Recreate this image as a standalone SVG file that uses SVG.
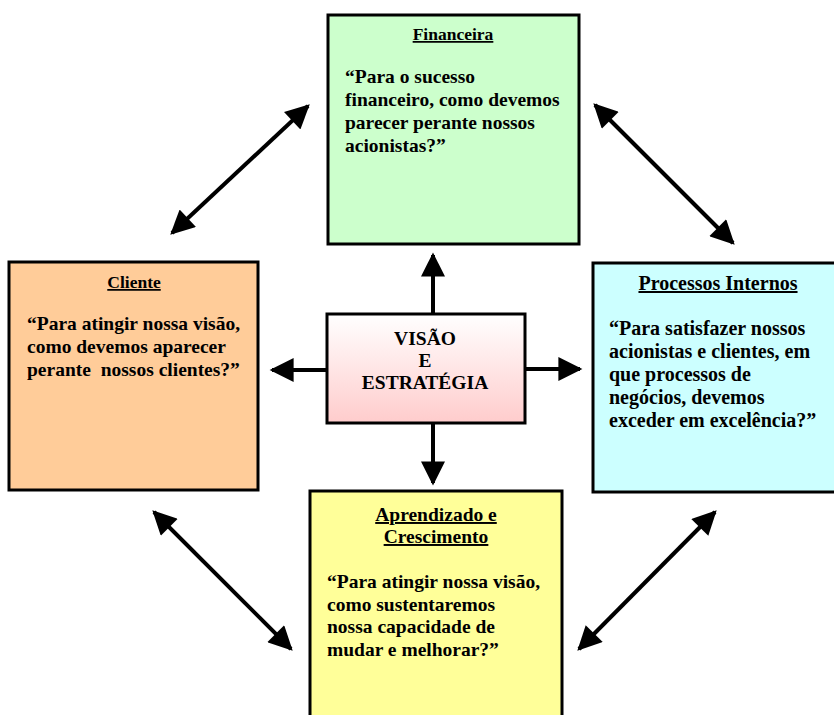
<svg xmlns="http://www.w3.org/2000/svg" width="834" height="715" viewBox="0 0 834 715">
  <defs>
    <linearGradient id="centerFill" x1="0" y1="0" x2="0" y2="1">
      <stop offset="0" stop-color="#FFFFFF"/>
      <stop offset="1" stop-color="#FFCCCC"/>
    </linearGradient>
    <marker id="head" viewBox="0 0 10 10" refX="9" refY="5" markerWidth="6.5" markerHeight="6" markerUnits="strokeWidth" orient="auto-start-reverse">
      <path d="M0,0 L10,5 L0,10 Z" fill="#000"/>
    </marker>
    <style>
      .box { stroke: #000; stroke-width: 3; }
      .title { font-family: "Liberation Serif", "Times New Roman", serif; font-weight: bold; font-size: 17.5px; text-decoration: underline; text-anchor: middle; fill: #000; }
      .body { font-family: "Liberation Serif", "Times New Roman", serif; font-weight: bold; font-size: 19.5px; fill: #000; }
      .big { font-size: 20px; }
      .center { font-family: "Liberation Serif", "Times New Roman", serif; font-weight: bold; font-size: 19.5px; text-anchor: middle; fill: #000; }
      .link { stroke: #000; stroke-width: 4; fill: none; }
    </style>
  </defs>

  <rect width="834" height="715" fill="#FFFFFF"/>

  <!-- connectors -->
  <g id="connectors">
    <line class="link" x1="433" y1="314" x2="433" y2="255" marker-end="url(#head)"/>
    <line class="link" x1="327" y1="370" x2="272" y2="370" marker-end="url(#head)"/>
    <line class="link" x1="525" y1="369" x2="580" y2="369" marker-end="url(#head)"/>
    <line class="link" x1="433" y1="423" x2="433" y2="483" marker-end="url(#head)"/>
    <line class="link" x1="172" y1="233" x2="308" y2="106" marker-start="url(#head)" marker-end="url(#head)"/>
    <line class="link" x1="595" y1="105" x2="733" y2="243" marker-start="url(#head)" marker-end="url(#head)"/>
    <line class="link" x1="154" y1="512" x2="291" y2="649" marker-start="url(#head)" marker-end="url(#head)"/>
    <line class="link" x1="715" y1="512" x2="579" y2="649" marker-start="url(#head)" marker-end="url(#head)"/>
  </g>

  <g id="financeira">
    <rect class="box" x="328" y="15" width="251" height="229" fill="#CCFFCC"/>
    <text class="title" x="453" y="40">Financeira</text>
    <text class="body" x="345" y="83">“Para o sucesso</text>
    <text class="body" x="345" y="106">financeiro, como devemos</text>
    <text class="body" x="345" y="129">parecer perante nossos</text>
    <text class="body" x="345" y="152">acionistas?”</text>
  </g>

  <g id="cliente">
    <rect class="box" x="9" y="262" width="249" height="228" fill="#FFCC99"/>
    <text class="title" x="134" y="288">Cliente</text>
    <text class="body" x="27" y="330">“Para atingir nossa visão,</text>
    <text class="body" x="27" y="353" xml:space="preserve">como devemos aparecer</text>
    <text class="body" x="27" y="376" xml:space="preserve">perante  nossos clientes?”</text>
  </g>

  <g id="processos">
    <rect class="box" x="593" y="263" width="245" height="229" fill="#CCFFFF"/>
    <text class="title" x="718" y="290" style="font-size:20px">Processos Internos</text>
    <text class="body big" x="609" y="335">“Para satisfazer nossos</text>
    <text class="body big" x="609" y="358">acionistas e clientes, em</text>
    <text class="body big" x="609" y="381">que processos de</text>
    <text class="body big" x="609" y="404">negócios, devemos</text>
    <text class="body big" x="609" y="427">exceder em excelência?”</text>
  </g>

  <g id="aprendizado">
    <rect class="box" x="310" y="491" width="252" height="230" fill="#FFFF99"/>
    <text class="title" x="436" y="521" style="font-size:19.5px">Aprendizado e</text>
    <text class="title" x="436" y="543" style="font-size:19.5px">Crescimento</text>
    <text class="body" x="327" y="588">“Para atingir nossa visão,</text>
    <text class="body" x="327" y="611">como sustentaremos</text>
    <text class="body" x="327" y="633">nossa capacidade de</text>
    <text class="body" x="327" y="656">mudar e melhorar?”</text>
  </g>

  <g id="visao">
    <rect class="box" x="327" y="314" width="198" height="109" fill="url(#centerFill)"/>
    <text class="center" x="425" y="345">VISÃO</text>
    <text class="center" x="425" y="367">E</text>
    <text class="center" x="425" y="389">ESTRATÉGIA</text>
  </g>
</svg>
